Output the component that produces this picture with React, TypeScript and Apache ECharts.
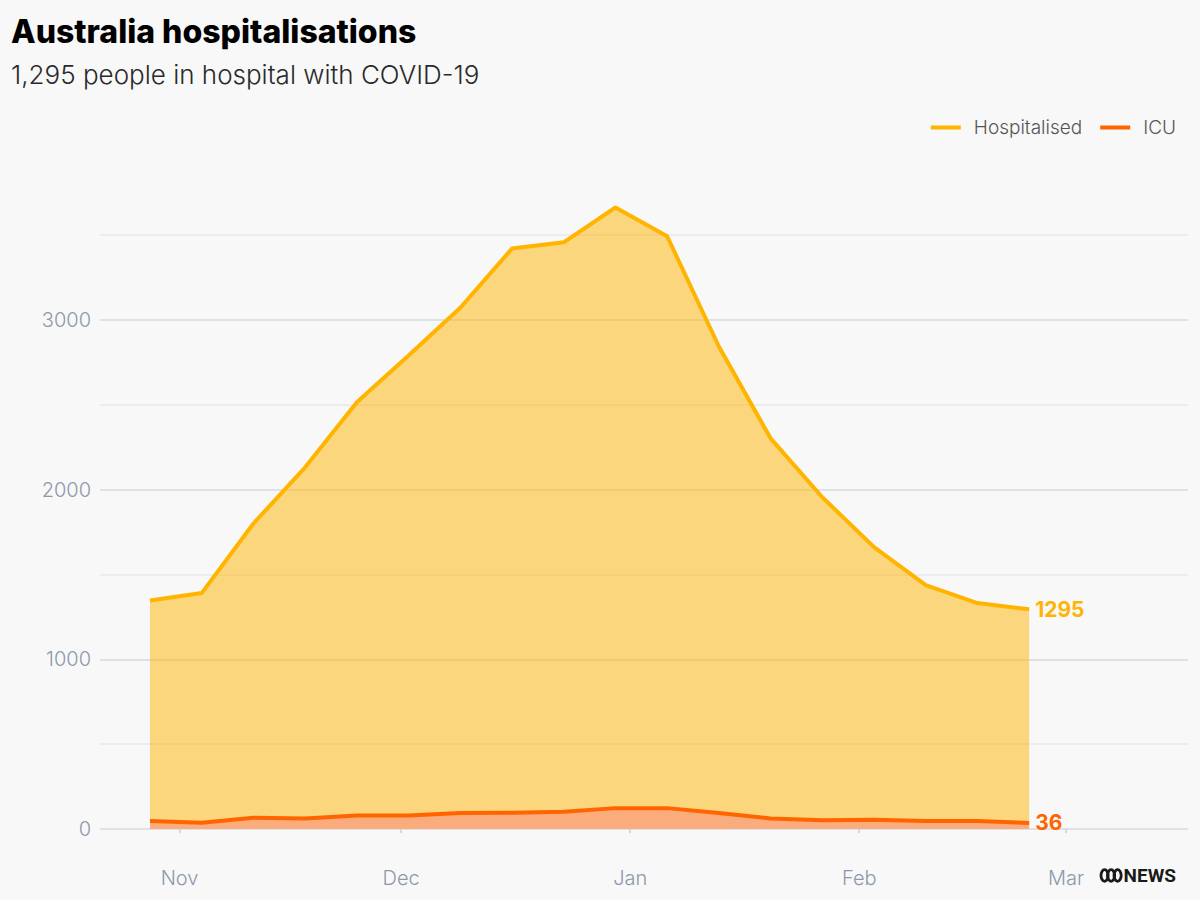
import React, { useEffect, useRef } from "react";
import * as echarts from "echarts";

// Weekly reporting dates
const dates = [
  "2022-10-28", "2022-11-04", "2022-11-11", "2022-11-18", "2022-11-25",
  "2022-12-02", "2022-12-09", "2022-12-16", "2022-12-23", "2022-12-30",
  "2023-01-06", "2023-01-13", "2023-01-20", "2023-01-27",
  "2023-02-03", "2023-02-10", "2023-02-17", "2023-02-24",
];

// People in hospital with COVID-19
const hospitalised = [
  1347, 1390, 1800, 2131, 2515, 2790, 3071, 3420, 3457,
  3662, 3492, 2843, 2302, 1955, 1661, 1437, 1331, 1295,
];

// People in intensive care
const icu = [
  47, 37, 66, 62, 80, 80, 94, 96, 102,
  123, 123, 94, 62, 51, 55, 47, 47, 36,
];

// Month ticks on the date axis
const monthTicks = ["2022-11-01", "2022-12-01", "2023-01-01", "2023-02-01", "2023-03-01"];
const monthLabels = ["Nov", "Dec", "Jan", "Feb", "Mar"];

const yTicks = [0, 1000, 2000, 3000];

const HOSP = "#ffb400";
const ICU = "#ff6400";
const AXIS_TEXT = "#8d99ab";
const FONT = "Inter, 'Noto Sans', sans-serif";
const DAY = 86400000;

const toTime = (s: string) => {
  const [y, m, d] = s.split("-").map(Number);
  return Date.UTC(y, m - 1, d);
};

export default function App() {
  const ref = useRef<HTMLDivElement>(null);

  useEffect(() => {
    if (!ref.current) return;
    const chart = echarts.init(ref.current, null, { renderer: "svg" });

    const times = dates.map(toTime);
    const tickTimes = monthTicks.map(toTime);
    const hospData = times.map((t, i) => [t, hospitalised[i]]);
    const icuData = times.map((t, i) => [t, icu[i]]);

    // Axis extent: a week of lead-in before the first report, three weeks after the last
    const xMin = times[0] - 6.77 * DAY;
    const xMax = times[times.length - 1] + 21.5 * DAY;

    chart.setOption({
      animation: false,
      backgroundColor: "#f8f8f8",
      textStyle: { fontFamily: FONT },
      title: [
        {
          text: "Australia hospitalisations",
          left: 6,
          top: 10,
          textStyle: { fontFamily: FONT, fontSize: 32, fontWeight: 800, color: "#000" },
        },
        {
          text: "1,295 people in hospital with COVID-19",
          left: 6,
          top: 56,
          textStyle: { fontFamily: FONT, fontSize: 26, fontWeight: 300, color: "#2a2a2a" },
        },
      ],
      legend: {
        right: 19,
        top: 113,
        icon: "rect",
        itemWidth: 30,
        itemHeight: 4,
        itemGap: 18,
        data: ["Hospitalised", "ICU"],
        textStyle: {
          fontFamily: FONT,
          fontSize: 19,
          fontWeight: 300,
          color: "#555",
          padding: [0, 0, 0, 8],
        },
      },
      grid: { left: 100, right: 12, top: 235, bottom: 71 },
      xAxis: {
        type: "value",
        min: xMin,
        max: xMax,
        offset: 33,
        axisLine: { show: false },
        splitLine: { show: false },
        axisTick: {
          show: true,
          length: 4,
          customValues: tickTimes,
          lineStyle: { color: "#d3d8e0", width: 2 },
        },
        axisLabel: {
          customValues: tickTimes,
          margin: 6,
          fontFamily: FONT,
          fontSize: 20,
          fontWeight: 300,
          color: AXIS_TEXT,
          formatter: (v: number) => {
            const i = tickTimes.indexOf(v);
            return i >= 0 ? monthLabels[i] : "";
          },
        },
      },
      yAxis: {
        type: "value",
        min: 0,
        max: 3500,
        interval: 500,
        axisLine: { show: false },
        axisTick: { show: false },
        axisLabel: {
          margin: 9,
          fontFamily: FONT,
          fontSize: 20,
          fontWeight: 300,
          color: AXIS_TEXT,
          formatter: (v: number) => (yTicks.includes(v) ? String(v) : ""),
        },
        splitLine: {
          show: true,
          lineStyle: { color: ["#d6dbe3", "#e6e8ec"], width: 1.5 },
        },
      },
      series: [
        {
          name: "Hospitalised",
          type: "line",
          data: hospData,
          clip: false,
          showSymbol: false,
          color: HOSP,
          lineStyle: { color: HOSP, width: 4 },
          areaStyle: { color: HOSP, opacity: 0.5 },
          endLabel: {
            show: true,
            distance: 6,
            formatter: (p: any) => String(p.value[1]),
            color: HOSP,
            fontFamily: FONT,
            fontSize: 21,
            fontWeight: "bold",
          },
          z: 2,
        },
        {
          name: "ICU",
          type: "line",
          data: icuData,
          showSymbol: false,
          color: ICU,
          lineStyle: { color: ICU, width: 4 },
          areaStyle: { color: "#fbac7c", opacity: 1 },
          endLabel: {
            show: true,
            distance: 6,
            formatter: (p: any) => String(p.value[1]),
            color: ICU,
            fontFamily: FONT,
            fontSize: 21,
            fontWeight: "bold",
          },
          z: 3,
        },
      ],
      graphic: [
        {
          type: "group",
          right: 24,
          bottom: 15,
          children: [
            { type: "ellipse", shape: { cx: 4, cy: 7, rx: 3.6, ry: 5.8 }, style: { fill: "none", stroke: "#1a1a1a", lineWidth: 2.8 } },
            { type: "ellipse", shape: { cx: 10.5, cy: 7, rx: 3.6, ry: 5.8 }, style: { fill: "none", stroke: "#1a1a1a", lineWidth: 2.8 } },
            { type: "ellipse", shape: { cx: 17, cy: 7, rx: 3.6, ry: 5.8 }, style: { fill: "none", stroke: "#1a1a1a", lineWidth: 2.8 } },
            {
              type: "text",
              x: 23,
              y: 7,
              style: {
                text: "NEWS",
                fill: "#1a1a1a",
                font: "bold 19px Roboto, sans-serif",
                verticalAlign: "middle",
              },
            },
          ],
        },
      ],
    });

    return () => chart.dispose();
  }, []);

  return (
    <div
      ref={ref}
      style={{ position: "fixed", left: 0, top: 0, width: 1200, height: 900 }}
    />
  );
}
